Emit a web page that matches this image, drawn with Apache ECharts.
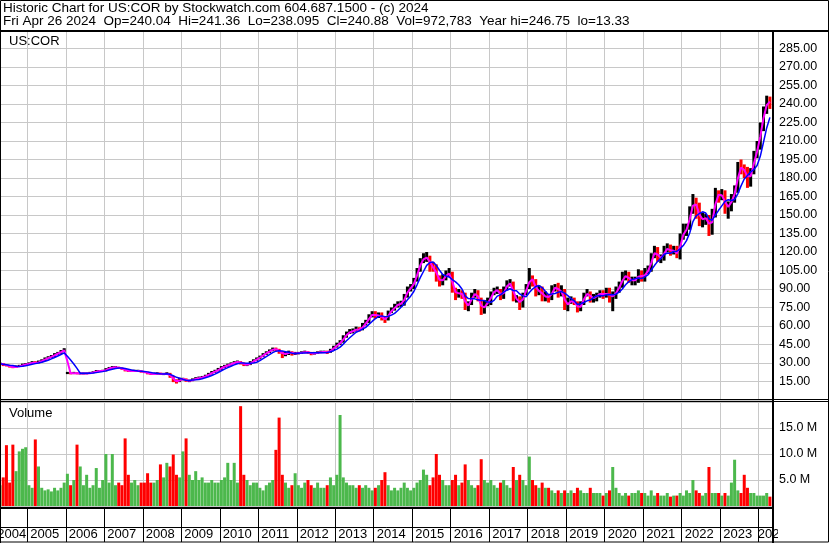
<!DOCTYPE html>
<html><head><meta charset="utf-8">
<script src="https://cdn.jsdelivr.net/npm/echarts@6/dist/echarts.min.js"></script>
<style>html,body{margin:0;padding:0;background:#fff}#c{width:830px;height:543px}</style>
</head><body><div id="c"></div><script>
// ---- data: monthly bars, Apr 2004 .. Apr 2024 ----
const startYear = 2004, startMonth = 4;
const opens = [
 29,29.5,28.5,28,27,26.5,27,27.5,28.5,
 29,29.5,30.5,30,31,32,33.5,34.5,35.5,37,38,39.5,
 21.8,22,21.5,22,21.5,21.5,21.5,21.5,22,22.5,23.5,23.5,
 23.5,25,26,26.5,26.5,26,25,24,23.5,23.5,23.5,23.5,
 23,22.5,21.5,21,21,21.5,21,21,21.5,19,16,14.5,
 17,17,15.5,15.5,16.5,17.5,18,18.5,19.5,21,22.5,23.5,
 25,26.5,27.5,28.5,29.5,30.5,31,30,28.5,28.5,30.5,32,
 33.5,35,37,38.5,40,41.5,41,39,37,37.5,39,37.5,
 38,38,38.5,39,38.5,37.5,38,38.5,39,39,38.5,40.5,
 43,45,47,51,54,55.5,56,58,56.5,61,63,68,
 70,68,69,66,65,71,73,76,78,78,84,90,
 91,97,105,113,115,116,108,107,100,95,99,102,
 103,89,86,87,85,75,78,85,87,81,72,78,
 79,86,89,89,83,90,94,95,82,82,77,86,
 91,100,96,87,90,83,85,82,90,92,88,88,
 75,80,80,79,73,78,85,87,82,83,85,87,
 85,87,84,84,89,93,100,101,97,97,97,103,
 98,104,105,117,121,115,115,122,123,120,122,116,
 132,136,140,153,162,155,146,147,148,138,150,167,
 166,166,156,157,164,170,189,188,185,178,185,198,
 205,222,235,243
];
const closes = [
 29.5,28.5,28,27,26.5,27,27.5,28.5,29,
 29.5,30.5,30,31,32,33.5,34.5,35.5,37,38,39.5,41,
 22,21.5,22,21.5,21.5,21.5,21.5,22,22.5,23.5,23.5,23.5,
 25,26,26.5,26.5,26,25,24,23.5,23.5,23.5,23.5,23,
 22.5,21.5,21,21,21.5,21,21,21.5,19,16,14.5,17,
 17,15.5,15.5,16.5,17.5,18,18.5,19.5,21,22.5,23.5,25,
 26.5,27.5,28.5,29.5,30.5,31,30,28.5,28.5,30.5,32,33.5,
 35,37,38.5,40,41.5,41,39,37,37.5,39,37.5,38,
 38,38.5,39,38.5,37.5,38,38.5,39,39,38.5,40.5,43,
 45,47,51,54,55.5,56,58,56.5,61,63,68,70,
 68,69,66,65,71,73,76,78,78,84,90,91,
 97,105,113,115,116,108,107,100,95,99,102,103,
 89,86,87,85,75,78,85,87,81,72,78,79,
 86,89,89,83,90,94,95,82,82,77,86,91,
 100,96,87,90,83,85,82,90,92,88,88,75,
 80,80,79,73,78,85,87,82,83,85,87,85,
 87,84,84,89,93,100,101,97,97,97,103,98,
 104,105,117,121,115,115,122,123,120,122,116,132,
 136,140,153,162,155,146,147,148,138,150,167,166,
 166,156,157,164,170,189,188,185,178,185,198,205,
 222,235,243,240.88
];
const highs = [
 30.5,30,29,28.5,27.5,28,28.5,29.5,30,
 30.5,31.5,31.5,32,33,34.5,35.5,36.5,38,39,40.5,42,
 22.8,22.5,22.8,22.5,22.3,22.3,22.3,22.8,23.3,24.3,24.3,24.5,
 25.8,26.8,27.5,27.5,27,26.3,25.3,24.5,24.5,24.5,24.5,24,
 23.5,23,22.2,22.2,22.5,22.2,22,22.5,22,19.5,16.8,18,
 18,17.5,16.5,17.5,18.5,19,19.5,20.5,22,23.5,24.5,26,
 27.5,28.5,29.5,30.5,31.5,32,31.5,30.5,29.5,31.5,33,34.5,
 36,38,39.5,41,42.5,42.5,41.5,39.5,39,40,39.5,39,
 39,39.5,40,39.5,39,39,39.5,40,40,40,41.5,44,
 46.5,48.5,52.5,55.5,57.5,58,59.5,59,62.5,65,69.5,72,
 72,71,71,67.5,72.5,75,78,80,80.5,86,92,94,
 99,107,115,119,120,117,112,110,101,102,105,107,
 104,91,90,89,87,80,87,90,89,83,81,83,
 88,91,92,90,92,97,98,96,85,84,87,94,
 107,101,98,93,92,88,86,93,94,95,93,90,
 83,84,83,80,80,87,90,88,86,87,89,89,
 91,91,88,92,96,104,105,104,100,100,106,105,
 107,109,119,125,124,118,125,127,126,125,125,135,
 143,143,157,167,164,160,152,151,150,155,172,170,
 171,170,161,167,174,193,195,191,189,188,202,210,
 225,238,246.75,246
];
const lows = [
 28.5,27.5,27.2,26.3,25.8,26.2,26.8,27.3,28,
 28.5,29.2,29.5,29.8,30.5,31.5,33,34,35,36.5,37.5,39,
 21,20.8,21,20.8,20.7,20.7,20.8,21.2,21.7,22.3,22.8,22.8,
 23.2,24.5,25.5,25.8,25.2,24.5,23.2,22.7,22.8,22.7,22.7,22.2,
 21.8,20.8,20.3,20.3,20.6,20.3,20.2,20.5,18,14.5,13.33,14.5,
 16,14.8,14.5,15.3,16.3,17,17.5,18.3,19.3,20.7,22,23.2,
 24.5,25.8,27,28,29,29.5,28.8,27.5,27.5,28.3,30.3,31.8,
 33,34.8,36.5,38,39.5,39.8,37.5,34,35.5,36.5,36,36.5,
 37,37.3,38,37.5,36.3,36.8,37.5,38,38.2,37.3,38.3,40.3,
 42.5,44.5,46.5,50.5,53.5,54,55.5,55.5,56.5,60.5,62.5,67,
 66,66.5,64.5,62.5,64.5,70.5,72.5,75,75.5,76.5,83,88,
 90,96,104,111,112,104,104,96,92,93,97,100,
 87,81,83,82,73,72,77,83,80,69,70,76,
 77,85,86,81,82,89,92,80,79,73,75,85,
 90,92,84,85,80,80,79,81,88,83,84,73,
 72,78,77,71,72,77,84,79,79,80,83,82,
 83,79,72,82,87,91,97,95,93,93,95,96,
 96,102,104,115,112,111,113,120,117,118,115,114,
 130,133,138,151,147,141,140,142,133,134,148,160,
 162,151,147,153,160,168,183,180,172,173,183,196,
 203,218,232,236
];
const volumes = [ // millions of shares
 4,5.5,11.7,4.5,11.8,6.7,10.5,11,11.3,
 4,3.5,12.8,7.6,3.5,3,3.2,2.8,3.5,3,3.5,4.5,
 6.2,4,5,11.8,7.6,4,6,3.5,4,7.3,3.5,5,
 10,4.5,10,4,4.5,4,13,6,4.5,5,4,4.5,
 4.5,6.3,4.5,4.5,5,8,5.5,8.3,7.6,9.9,6,5.5,
 10.5,13,6,5,6.7,5,5.5,4.5,4.5,5,4.5,4.5,
 5,5.5,8.3,5,8.3,4.5,19.2,6,5,4,4.5,4.5,
 3.5,3,4,4.5,5,10.8,17,6,4.5,3.5,4,6.3,
 4,3.5,4.5,5,4,3.5,4.5,3.5,3.5,4,5.5,4,
 6,17.5,5.5,4.5,4,4,3.5,4,3.5,4,3.5,3,
 3.5,4,5,6.5,4,3,3.5,3,3.5,4.5,3.5,3,
 3.5,4.5,5,7,6,4,5.5,10,6,5,4,4,
 5,6,4,4.5,8,5,4,3.5,4,9,5,4.5,
 5,4,3.5,4.5,5,4,3.5,7.5,5,6,5,4,
 9.5,5,4,3.5,4.5,3.5,3.5,3,2.5,3,2.5,3,
 2.5,3,2.5,3.5,3,2.5,2.5,3.5,2.5,2.5,2.5,2,
 2.5,3,7.5,3.5,2.5,2,2.5,2,2.5,2.5,3,2.5,
 2.5,2,3,2,2.5,2,2,2.5,1.8,2,2,2.5,
 2,3,2.5,5,3,2.5,2,2.5,7.5,2.5,2.5,2.5,
 2,2.5,2,4.5,8.9,3,2.5,6,3.5,2.5,2.5,2,
 2,2,2.5,1.8
];
const titleLine1 = 'Historic Chart for US:COR by Stockwatch.com 604.687.1500 - (c) 2024';
const titleLine2 = 'Fri Apr 26 2024  Op=240.04  Hi=241.36  Lo=238.095  Cl=240.88  Vol=972,783  Year hi=246.75  lo=13.33';
const symbolName = 'US:COR';

// ---- derived ----
const xs = closes.map((_, i) => startYear + (startMonth - 1 + i + 0.5) / 12);
function sma(arr, len) {
  return arr.map((_, i) => { const s = Math.max(0, i - len + 1); let t = 0; for (let k = s; k <= i; k++) t += arr[k]; return t / (i - s + 1); });
}
const maFast = sma(closes, 2), maSlow = sma(closes, 5);

const FONT = '"Liberation Sans", Arial, sans-serif';
const GL = -11.2, GR = 57, XMAX = 2024.372;
const GRID = '#c8c8c8';
const isInt = v => Math.abs(v - Math.round(v)) < 1e-6;
const hiddenX = (g) => ({ gridIndex: g, type: 'value', min: 2004, max: XMAX, interval: 1,
  axisLine: { show: false }, axisTick: { show: false }, axisLabel: { show: false },
  splitLine: { show: true, lineStyle: { color: GRID, width: 1 } } });

const chart = echarts.init(document.getElementById('c'), null, { renderer: 'canvas' });
const lineEl = (x1, y1, x2, y2, w) => ({ type: 'line', silent: true, z: 100, shape: { x1, y1, x2, y2 }, style: { stroke: '#000', lineWidth: w } });
const textEl = (x, y, t, fs) => ({ type: 'text', silent: true, z: 100, x, y, style: { text: t, font: (fs || 13) + 'px ' + FONT, fill: '#000', verticalAlign: 'middle', align: 'left' } });

chart.setOption({
  animation: false,
  backgroundColor: '#fff',
  grid: [
    { left: GL, right: GR, top: 30, height: 370, outerBoundsMode: 'none' },
    { left: GL, right: GR, top: 402, height: 104, outerBoundsMode: 'none' },
    { left: GL, right: GR, top: 509, height: 18, outerBoundsMode: 'none' }
  ],
  xAxis: [
    hiddenX(0), hiddenX(1),
    { gridIndex: 2, type: 'value', min: 2004, max: XMAX, interval: 1,
      axisLine: { show: true, lineStyle: { color: '#000', width: 1 } },
      axisTick: { show: true, length: 15, lineStyle: { color: '#000', width: 1 } },
      splitLine: { show: true, lineStyle: { color: '#000', width: 1 } },
      axisLabel: { show: true, showMinLabel: true, showMaxLabel: false, hideOverlap: false,
        margin: 1, align: 'left', padding: [0, 0, 0, 3], fontSize: 13, fontFamily: FONT, color: '#000',
        formatter: v => !isInt(v) ? '' : (Math.round(v) === 2004 ? '{f|2004}' : (Math.round(v) === 2024 ? '{l|2024}' : String(Math.round(v)))),
        rich: { f: { padding: [0, 0, 0, 5.5], fontSize: 13, fontFamily: FONT, color: '#000' },
                l: { padding: [0, 0, 0, -4], fontSize: 13, fontFamily: FONT, color: '#000' } } } }
  ],
  yAxis: [
    { gridIndex: 0, type: 'value', position: 'right', min: 0, max: 300, interval: 15,
      axisLine: { show: false }, axisTick: { show: false },
      splitLine: { show: true, lineStyle: { color: GRID, width: 1 } },
      axisLabel: { margin: 6, fontSize: 12.5, fontFamily: FONT, color: '#000',
        formatter: v => (v <= 0 || v >= 300) ? '' : v.toFixed(2) } },
    { gridIndex: 1, type: 'value', position: 'right', min: 0, max: 20, interval: 5,
      axisLine: { show: false }, axisTick: { show: false },
      splitLine: { show: true, lineStyle: { color: GRID, width: 1 } },
      axisLabel: { margin: 6, fontSize: 12.5, fontFamily: FONT, color: '#000',
        formatter: v => (v <= 0 || v >= 20) ? '' : v.toFixed(1) + ' M' } },
    { gridIndex: 2, type: 'value', show: false, min: 0, max: 1 }
  ],
  series: [
    { type: 'custom', xAxisIndex: 0, yAxisIndex: 0, clip: true, z: 3,
      data: xs.map((x, i) => [x, opens[i], closes[i], lows[i], highs[i]]),
      encode: { x: 0, y: [1, 2, 3, 4] },
      renderItem: (params, api) => {
        const x = api.value(0), o = api.value(1), c = api.value(2), l = api.value(3), h = api.value(4);
        const top = api.coord([x, h]), bot = api.coord([x, l]);
        const w = 3;
        return { type: 'rect', shape: { x: top[0] - w / 2, y: top[1], width: w, height: Math.max(1, bot[1] - top[1]) },
          style: { fill: c >= o ? '#000' : '#ff0000' } };
      } },
    { type: 'line', xAxisIndex: 0, yAxisIndex: 0, z: 4, showSymbol: false, symbol: 'none',
      data: xs.map((x, i) => [x, maFast[i]]), lineStyle: { color: '#ff00ff', width: 2 } },
    { type: 'line', xAxisIndex: 0, yAxisIndex: 0, z: 5, showSymbol: false, symbol: 'none',
      data: xs.map((x, i) => [x, maSlow[i]]), lineStyle: { color: '#0000ff', width: 1.5 } },
    { type: 'bar', xAxisIndex: 1, yAxisIndex: 1, barWidth: 3, z: 3,
      data: xs.map((x, i) => ({ value: [x, volumes[i]],
        itemStyle: { color: closes[i] >= opens[i] ? '#4cb84c' : '#ff0000' } })) }
  ],
  graphic: [
    { type: 'rect', silent: true, z: 99, shape: { x: 778, y: 509, width: 49, height: 32 }, style: { fill: '#fff' } },
    textEl(3, 8, titleLine1, 13.5),
    textEl(3, 21.5, titleLine2, 13.5),
    textEl(9, 41, symbolName),
    textEl(9, 413, 'Volume'),
    { type: 'rect', silent: true, z: 100, shape: { x: 0.5, y: 0.5, width: 828, height: 541.5 }, style: { fill: null, stroke: '#000', lineWidth: 1 } },
    lineEl(0, 1, 0, 543, 2),
    lineEl(0, 31, 829, 31, 2),
    lineEl(773, 31, 773, 543, 2),
    lineEl(0, 399.5, 829, 399.5, 1),
    lineEl(0, 401.5, 829, 401.5, 1),
    lineEl(0, 508, 774, 508, 2)
  ]
});
</script></body></html>
